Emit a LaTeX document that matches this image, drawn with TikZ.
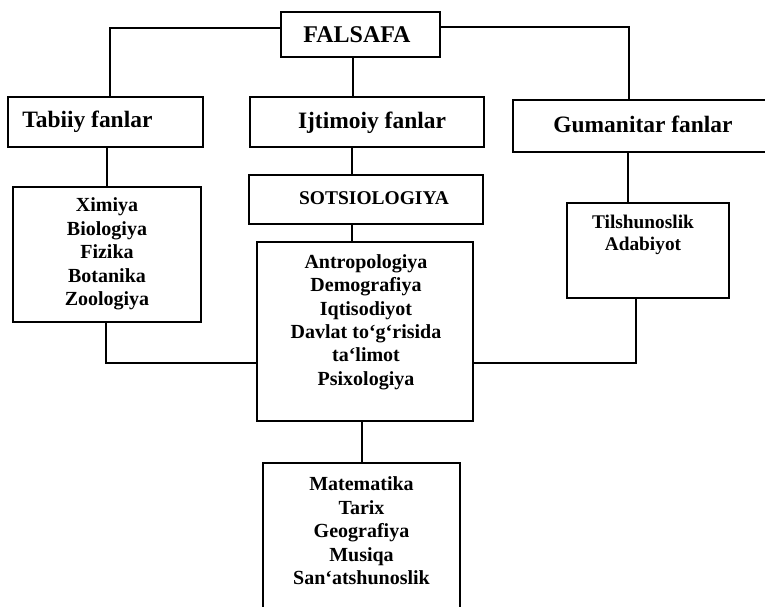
\documentclass[tikz,border=0pt]{standalone}
\usepackage{fontspec}
\setmainfont{Liberation Serif}
\begin{document}
\begin{tikzpicture}[x=0.75pt,y=-0.75pt,
  box/.style={draw,line width=1.1pt,inner sep=0pt},
  head/.style={font=\fontsize{17.6}{20}\selectfont\bfseries,inner sep=0pt},
  sub/.style={font=\fontsize{14.6}{17}\selectfont\bfseries,inner sep=0pt},
  lst/.style={font=\fontsize{15}{17.6}\selectfont\bfseries,align=center,inner sep=0pt},
  lsts/.style={font=\fontsize{14.5}{16.5}\selectfont\bfseries,align=center,inner sep=0pt},
  conn/.style={line width=1.1pt}]
\useasboundingbox (0,0) rectangle (765,607);

% boxes
\node[box,minimum width=119.25pt,minimum height=33.75pt] (fal) at (360.5,34.5) {};
\node[font=\fontsize{18}{20}\selectfont\bfseries,inner sep=0pt] (falt) at (357,35) {FALSAFA};

\node[box,minimum width=146.25pt,minimum height=37.5pt] (tab) at (105.5,122) {};
\node[head,anchor=west] (tabt) at (22,122) {Tabiiy fanlar};

\node[box,minimum width=175.5pt,minimum height=37.5pt] (ijt) at (367,122) {};
\node[head] (ijtt) at (372,123) {Ijtimoiy fanlar};

\node[box,minimum width=192.75pt,minimum height=39pt] (gum) at (641.5,126) {};
\node[head] (gumt) at (643,124) {Gumanitar fanlar};

\node[box,minimum width=175.5pt,minimum height=36.75pt] (sot) at (366,199.5) {};
\node[sub] (sott) at (374,198) {SOTSIOLOGIYA};

\node[box,minimum width=141pt,minimum height=101.25pt] (xim) at (107,254.5) {};
\node[lst] (ximt) at (107,254) {Ximiya\\Biologiya\\Fizika\\Botanika\\Zoologiya};

\node[box,minimum width=162pt,minimum height=134.25pt] (ant) at (365,331.5) {};
\node[lst] (antt) at (366,322) {Antropologiya\\Demografiya\\Iqtisodiyot\\Davlat to‘g‘risida\\ta‘limot\\Psixologiya};

\node[box,minimum width=121.5pt,minimum height=71.25pt] (til) at (648,250.5) {};
\node[lsts] (tilt) at (643,235) {Tilshunoslik\\Adabiyot};

\node[box,minimum width=147.75pt,minimum height=114pt] (mat) at (361.5,539) {};
\node[lst] (matt) at (361.5,531) {Matematika\\Tarix\\Geografiya\\Musiqa\\San‘atshunoslik};

% connectors
\draw[conn] (fal.west |- 0,28) -| (tab.north -| 110,0);
\draw[conn] (fal.east |- 0,27) -| (gum.north -| 629,0);
\draw[conn] (fal.south -| 353,0) -- (ijt.north -| 353,0);
\draw[conn] (tab.south -| 107,0) -- (xim.north -| 107,0);
\draw[conn] (ijt.south -| 352,0) -- (sot.north -| 352,0);
\draw[conn] (gum.south -| 628,0) -- (til.north -| 628,0);
\draw[conn] (sot.south -| 352,0) -- (ant.north -| 352,0);
\draw[conn] (xim.south -| 106,0) |- (ant.west |- 0,363);
\draw[conn] (til.south -| 636,0) |- (ant.east |- 0,363);
\draw[conn] (ant.south -| 362,0) -- (mat.north -| 362,0);
\end{tikzpicture}
\end{document}
